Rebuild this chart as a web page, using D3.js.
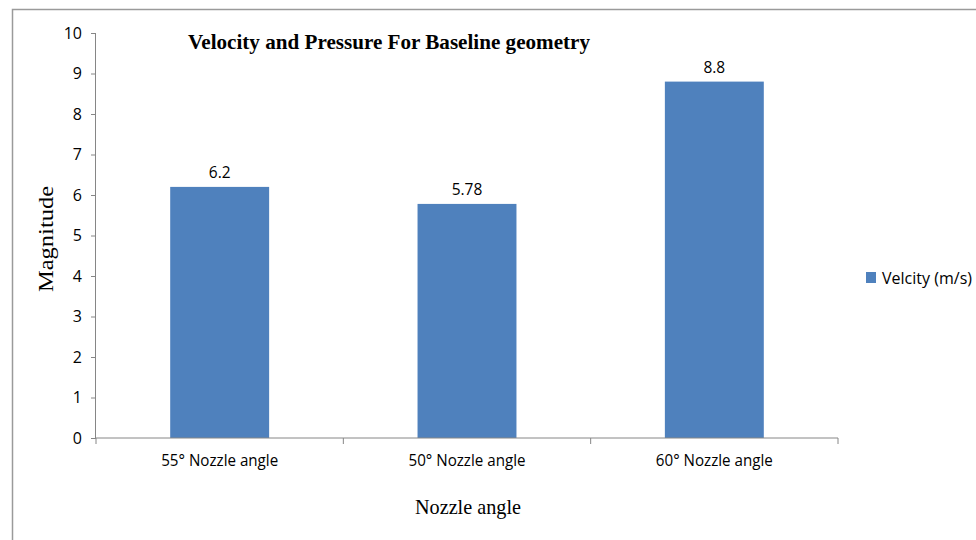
<!DOCTYPE html>
<html><head><meta charset="utf-8">
<script src="https://cdn.jsdelivr.net/npm/d3@7"></script>
<style>body{margin:0;background:#fff}</style>
</head><body>
<svg id="c" width="976" height="540"></svg>
<script>
const categories = ["55° Nozzle angle", "50° Nozzle angle", "60° Nozzle angle"];
const velocity = [6.2, 5.78, 8.8];
const yTicks = [0,1,2,3,4,5,6,7,8,9,10];
const seriesName = "Velcity (m/s)";
const title = "Velocity and Pressure For Baseline geometry";

const svg = d3.select("#c");
const L = 96, R = 838, T = 33, B = 438;
const axisColor = "#868686";
const barColor = "#4f81bd";
const sansFont = "'Open Sans', sans-serif";
const serifFont = "'Liberation Serif', 'Times New Roman', serif";

// outer border
svg.append("rect").attr("x", 12.5).attr("y", 9.5).attr("width", 1000).attr("height", 600)
  .attr("fill", "none").attr("stroke", "#9a9a9a").attr("stroke-width", 1.5);

const x = d3.scaleBand().domain(categories).range([L, R]).padding(0);
const y = d3.scaleLinear().domain([0, 10]).range([B, T]);

const barW = x.bandwidth() * 0.4;
svg.append("g").selectAll("rect").data(velocity).join("rect")
  .attr("x", (d, i) => x(categories[i]) + (x.bandwidth() - barW) / 2)
  .attr("y", d => y(d))
  .attr("width", barW)
  .attr("height", d => y(0) - y(d))
  .attr("fill", barColor);

// data labels
svg.append("g").selectAll("text").data(velocity).join("text")
  .attr("x", (d, i) => x(categories[i]) + x.bandwidth() / 2)
  .attr("y", d => y(d) - 9)
  .attr("text-anchor", "middle")
  .attr("font-family", sansFont).attr("font-size", 15.5).attr("fill", "#000")
  .text(d => d);

// y axis
const yAxis = d3.axisLeft(y).tickValues(yTicks).tickSize(5).tickPadding(9).tickFormat(d3.format("d"));
const gy = svg.append("g").attr("transform", `translate(${L},0)`).call(yAxis);
gy.select(".domain").attr("stroke", axisColor).attr("d", `M-0.5,${T}V${B}`);
gy.selectAll(".tick line").attr("stroke", axisColor);
gy.selectAll(".tick text").attr("font-family", sansFont).attr("font-size", 16).attr("fill", "#000");

// x axis
const xAxis = d3.axisBottom(x).tickSize(0).tickPadding(17);
const gx = svg.append("g").attr("transform", `translate(0,${B})`).call(xAxis);
gx.select(".domain").attr("stroke", axisColor).attr("d", `M${L},0H${R}`);
gx.selectAll(".tick text").attr("font-family", sansFont).attr("font-size", 15.5).attr("fill", "#000")
  .attr("textLength", 117).attr("lengthAdjust", "spacingAndGlyphs");
// category boundary tick marks
const bounds = categories.map(c => x(c)).concat([R]);
gx.append("g").selectAll("line").data(bounds).join("line")
  .attr("x1", d => d).attr("x2", d => d).attr("y1", 0).attr("y2", 6)
  .attr("stroke", axisColor);

// title
svg.append("text").attr("x", 389).attr("y", 49).attr("text-anchor", "middle")
  .attr("font-family", serifFont).attr("font-weight", "bold").attr("font-size", 21)
  .attr("textLength", 402).attr("lengthAdjust", "spacingAndGlyphs")
  .text(title);

// axis titles
svg.append("text").attr("transform", "translate(53,239) rotate(-90)").attr("text-anchor", "middle")
  .attr("font-family", serifFont).attr("font-size", 21)
  .attr("textLength", 106).attr("lengthAdjust", "spacingAndGlyphs").text("Magnitude");
svg.append("text").attr("x", 468).attr("y", 514).attr("text-anchor", "middle")
  .attr("font-family", serifFont).attr("font-size", 21)
  .attr("textLength", 106).attr("lengthAdjust", "spacingAndGlyphs").text("Nozzle angle");

// legend
const lg = svg.append("g");
lg.append("rect").attr("x", 866).attr("y", 272).attr("width", 10).attr("height", 11).attr("fill", barColor);
lg.append("text").attr("x", 882).attr("y", 284).attr("font-family", sansFont).attr("font-size", 15.5)
  .attr("textLength", 90).attr("lengthAdjust", "spacingAndGlyphs").text(seriesName);
</script>
</body></html>
